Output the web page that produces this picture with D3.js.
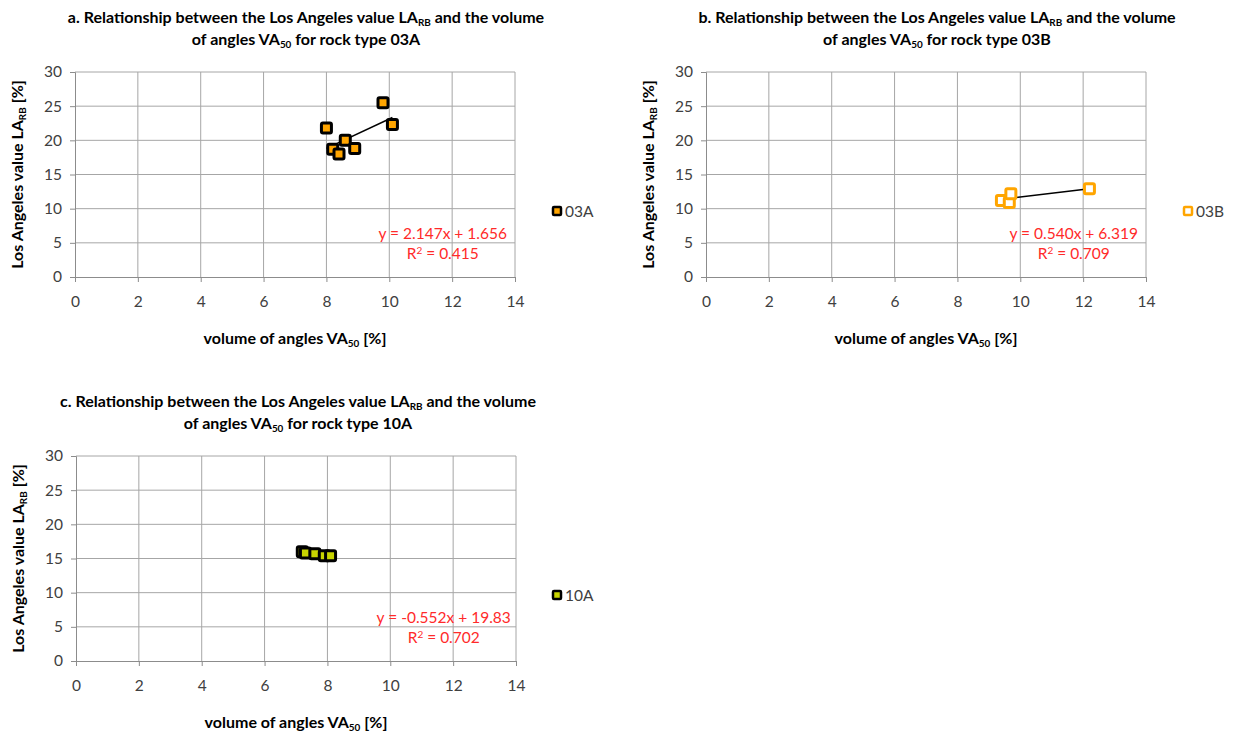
<!DOCTYPE html>
<html>
<head>
<meta charset="utf-8">
<script src="https://cdn.jsdelivr.net/npm/d3@7"></script>
<style>
  body { margin: 0; background: #fff; }
  text { font-family: Lato, "Open Sans", sans-serif; }
</style>
</head>
<body>
<div id="chart"></div>
<script>
// data
var series03A_x = [8.0, 9.8, 10.1, 8.2, 8.4, 8.6, 8.9]
var series03A_y = [21.8, 25.5, 22.3, 18.7, 18.0, 20.0, 18.8]
var series03B_x = [9.4, 9.65, 9.7, 12.2]
var series03B_y = [11.2, 10.9, 12.2, 12.9]
var series10A_x = [7.2, 7.3, 7.6, 7.9, 8.1]
var series10A_y = [16.0, 15.8, 15.7, 15.4, 15.4]

var slopes = [2.147, 0.540, -0.552]
var intercepts = [1.656, 6.319, 19.83]
var eqLabels = ["y = 2.147x + 1.656", "y = 0.540x + 6.319", "y = -0.552x + 19.83"]
var r2Labels = ["0.415", "0.709", "0.702"]
var letters = ["a.", "b.", "c."]
var rockTypes = ["03A", "03B", "10A"]
var xTicks = [0, 2, 4, 6, 8, 10, 12, 14]
var yTicks = [0, 5, 10, 15, 20, 25, 30]

var width = 1235, height = 735

var svg = d3.select("#chart").append("svg")
    .attr("width", width)
    .attr("height", height)

function sub(sel, main, subtxt, rest, size) {
  sel.append("tspan").text(main)
  sel.append("tspan").text(subtxt).attr("font-size", size * 0.62).attr("dy", 3)
  sel.append("tspan").text(rest).attr("dy", -3)
}

function drawChart(i, xs, ys, left, top, fill, stroke, legendX, titleX) {
  var w = 440, h = 205
  var fs = 16
  var g = svg.append("g").attr("transform", "translate(" + left + "," + top + ")")

  var x = d3.scaleLinear().domain([0, 14]).range([0, w])
  var y = d3.scaleLinear().domain([0, 30]).range([h, 0])

  // gridlines
  g.selectAll("line.vgrid")
      .data(xTicks.slice(1))
    .enter().append("line")
      .attr("class", "vgrid")
      .attr("x1", function(d) { return x(d) }).attr("x2", function(d) { return x(d) })
      .attr("y1", 0).attr("y2", h)
      .style("stroke", "#a6a6a6")
  g.selectAll("line.hgrid")
      .data(yTicks.slice(1))
    .enter().append("line")
      .attr("class", "hgrid")
      .attr("x1", 0).attr("x2", w)
      .attr("y1", function(d) { return y(d) }).attr("y2", function(d) { return y(d) })
      .style("stroke", "#a6a6a6")

  var xAxis = g.append("g").attr("transform", "translate(0," + h + ")")
      .call(d3.axisBottom(x).tickValues(xTicks).tickSize(5).tickPadding(14))
  var yAxis = g.append("g")
      .call(d3.axisLeft(y).tickValues(yTicks).tickSize(5).tickPadding(8))
  ;[xAxis, yAxis].forEach(function(a) {
    a.selectAll("path, line").style("stroke", "#8c8c8c")
    a.selectAll("text").style("fill", "#404040").style("font-size", "15.5px")
      .style("font-family", "Lato, 'Open Sans', sans-serif")
  })

  // trend line over the data range
  var xmin = d3.min(xs), xmax = d3.max(xs)
  g.append("line")
      .attr("x1", x(xmin)).attr("y1", y(slopes[i] * xmin + intercepts[i]))
      .attr("x2", x(xmax)).attr("y2", y(slopes[i] * xmax + intercepts[i]))
      .style("stroke", "#000").style("stroke-width", 1.5)

  var pts = xs.map(function(d, k) { return { x: d, y: ys[k] } })
  g.selectAll("rect.pt")
      .data(pts)
    .enter().append("rect")
      .attr("class", "pt")
      .attr("x", function(d) { return x(d.x) - 5 })
      .attr("y", function(d) { return y(d.y) - 5 })
      .attr("width", 10).attr("height", 10)
      .attr("rx", 1.5)
      .style("fill", fill).style("stroke", stroke).style("stroke-width", 3)

  // trend labels
  var cx = x(11.7)
  g.append("text").attr("x", cx).attr("y", 167).attr("text-anchor", "middle")
      .style("fill", "#ff2a2a").style("font-size", "15.5px").text(eqLabels[i])
  var r2 = g.append("text").attr("x", cx).attr("y", 187).attr("text-anchor", "middle")
      .style("fill", "#ff2a2a").style("font-size", "15.5px")
  r2.append("tspan").text("R")
  r2.append("tspan").text("2").attr("font-size", 10).attr("dy", -5)
  r2.append("tspan").text(" = " + r2Labels[i]).attr("dy", 5)

  // title
  var t1 = g.append("text").attr("x", titleX).attr("y", -49).attr("text-anchor", "middle")
      .style("font-weight", "bold").style("font-size", fs + "px")
  sub(t1, letters[i] + " Relationship between the Los Angeles value LA", "RB", " and the volume", fs)
  var t2 = g.append("text").attr("x", titleX).attr("y", -27).attr("text-anchor", "middle")
      .style("font-weight", "bold").style("font-size", fs + "px")
  sub(t2, "of angles VA", "50", " for rock type " + rockTypes[i], fs)

  // axis titles
  var xt = g.append("text").attr("x", w / 2).attr("y", h + 67).attr("text-anchor", "middle")
      .style("font-weight", "bold").style("font-size", fs + "px")
  sub(xt, "volume of angles VA", "50", " [%]", fs)
  var yt = g.append("text").attr("transform", "translate(-52," + (h / 2) + ") rotate(-90)")
      .attr("text-anchor", "middle")
      .style("font-weight", "bold").style("font-size", fs + "px")
  sub(yt, "Los Angeles value LA", "RB", " [%]", fs)

  // legend
  var lg = svg.append("g").attr("transform", "translate(" + legendX + "," + (top + 139) + ")")
  lg.append("rect").attr("x", -4).attr("y", -4).attr("width", 8).attr("height", 8).attr("rx", 1)
      .style("fill", fill).style("stroke", stroke).style("stroke-width", 2.5)
  lg.append("text").attr("x", 8).attr("y", 6).style("font-size", "15.5px").style("fill", "#404040")
      .text(rockTypes[i])
}

drawChart(0, series03A_x, series03A_y, 75, 72, "#ffa500", "#000", 557, 231)
drawChart(1, series03B_x, series03B_y, 706, 72, "#ffffff", "#ffa500", 1188, 231)
drawChart(2, series10A_x, series10A_y, 76, 456, "#c8d400", "#000", 557, 222)
</script>
</body>
</html>
